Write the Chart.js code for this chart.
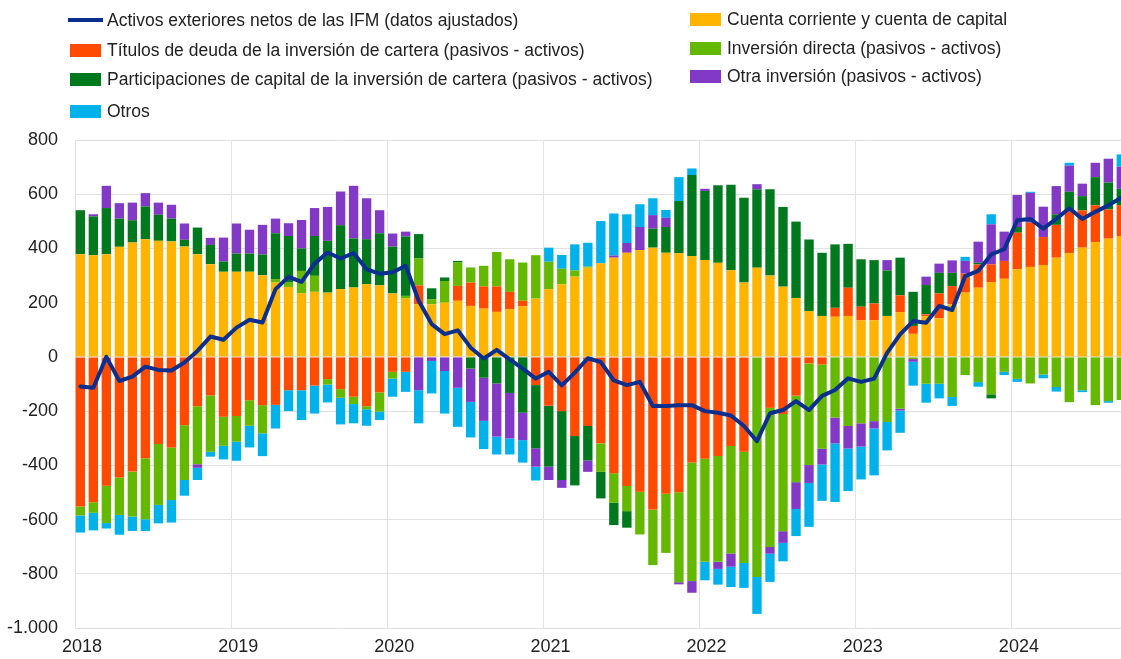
<!DOCTYPE html>
<html><head><meta charset="utf-8">
<script src="https://cdn.jsdelivr.net/npm/chart.js@4.4.0/dist/chart.umd.min.js"></script>
<style>
html,body{margin:0;padding:0;background:#fff;overflow:hidden;width:1121px;height:659px}
#wrap{position:absolute;left:0;top:0;width:1129px;height:659px}
.leg{position:absolute;font:17.5px "Liberation Sans",Arial,sans-serif;color:#222;white-space:nowrap;height:20px;line-height:20px;padding-left:37px}
.sw{position:absolute;left:0;top:4px;width:31px;height:13px}
.ln{position:absolute;left:-2px;top:8px;width:35px;height:4px;background:#003299}
</style></head>
<body>
<div id="wrap"><canvas id="c" width="1129" height="659"></canvas></div>
<div id="legend"></div>
<script>
// months Jan 2018 .. Sep 2024
const yearLabels = ['2018','2019','2020','2021','2022','2023','2024'];
const yTicks = [800,600,400,200,0,-200,-400,-600,-800,-1000];
const yTickLabels = ['800','600','400','200','0','-200','-400','-600','-800','-1.000'];

const netAssets = [
 -109,-114,0,-89,-73,-36,-48,-50,-21,22,75,63,
 108,137,127,250,295,277,344,385,363,383,323,307,
 312,336,207,121,84,98,34,-6,26,-9,-43,-80,
 -55,-105,-58,-5,-19,-87,-104,-92,-181,-181,-178,-178,
 -200,-206,-216,-255,-311,-208,-196,-163,-196,-144,-122,-79,
 -92,-80,15,83,132,126,188,173,298,317,378,397,
 504,509,473,509,548,509,535,559,587];
const currentAccount = [
 379,375,379,406,422,434,428,426,407,379,342,314,
 314,314,301,274,258,235,240,237,250,256,268,264,
 234,215,194,194,200,207,188,178,166,176,186,215,
 250,268,296,329,345,366,384,394,403,384,382,372,
 357,347,320,274,329,300,259,217,169,151,148,151,
 135,135,151,165,85,151,142,194,237,255,276,288,
 323,332,339,366,382,403,424,436,446];
const debtSecurities = [
 -552,-536,-475,-445,-423,-374,-321,-334,-252,-182,-142,-221,
 -218,-160,-178,-177,-123,-123,-106,-82,-119,-147,-182,-131,
 -55,-55,70,0,0,55,86,82,94,64,21,-104,
 -180,-200,-292,-255,-319,-429,-476,-497,-563,-505,-499,-390,
 -376,-366,-329,-350,0,-188,-211,-143,-24,-28,33,104,
 50,62,0,62,29,6,92,67,70,86,65,66,
 135,163,103,121,156,137,135,108,114];
const directInvestment = [
 -33,-39,-138,-138,-166,-225,-225,-194,-202,-214,-208,-107,
 -95,-94,-104,13,16,82,59,-20,-32,-27,-11,-71,
 -25,10,99,19,80,86,56,76,127,120,141,160,
 101,57,23,4,-105,-109,-93,-158,-205,-218,-332,-437,
 -380,-390,-396,-410,-812,-513,-432,-319,-375,-311,-224,-255,
 -245,-237,-240,-191,-8,-99,-99,-148,-67,-93,-138,-55,
 -81,-98,-65,-111,-167,-123,-178,-163,-159];
const equityInvestment = [
 162,143,170,104,82,121,96,84,25,98,71,38,
 67,67,77,169,172,83,147,191,236,181,166,192,
 173,219,90,40,13,6,-43,-77,-98,-133,-206,-233,
 -225,-254,-182,-127,-98,-82,-61,0,70,95,193,299,
 255,286,315,313,289,318,294,282,264,233,234,162,
 175,160,168,139,126,108,76,49,0,6,-15,0,
 21,0,0,39,71,53,104,99,60];
const otherInvestment = [
 0,8,82,57,65,49,45,51,60,-13,26,88,
 111,88,109,54,47,105,103,125,124,194,151,85,
 48,18,-123,-15,-52,-114,-123,-159,-196,-168,-101,-68,
 -49,-29,0,-42,0,8,36,85,50,34,-8,-43,
 8,-26,-49,0,19,-25,-43,-99,-66,-58,-95,-83,
 -86,-27,38,-7,-10,31,34,46,47,78,148,108,
 118,110,112,104,97,46,53,88,82];
const others = [
 -63,-65,-20,-73,-53,-43,-68,-83,-58,-45,-18,-50,
 -70,-80,-84,-87,-77,-110,-103,-66,-98,-71,-61,-31,
 -67,-74,-122,-120,-157,-144,-131,-104,-66,-59,-83,-51,
 52,51,96,88,156,155,106,84,62,29,88,24,
 -68,-58,-75,-92,-136,-104,-68,-100,-162,-134,-216,-157,
 -121,-173,-105,-82,-88,-70,-54,-33,15,-17,37,-12,
 -11,4,-14,-17,10,-7,0,-6,45];

const names = {
  line: 'Activos exteriores netos de las IFM (datos ajustados)',
  ca: 'Cuenta corriente y cuenta de capital',
  debt: 'Títulos de deuda de la inversión de cartera (pasivos - activos)',
  fdi: 'Inversión directa (pasivos - activos)',
  eq: 'Participaciones de capital de la inversión de cartera (pasivos - activos)',
  oi: 'Otra inversión (pasivos - activos)',
  oth: 'Otros'
};
const colors = {line:'#0a2f8f', ca:'#FFB400', debt:'#FF4B00', fdi:'#65B800', eq:'#00781E', oi:'#8139C6', oth:'#00B1EA'};

// HTML legend (2 columns, row-major)
const legendItems = [
  {k:'line', x:70, y:10, line:true}, {k:'ca', x:690, y:9},
  {k:'debt', x:70, y:40}, {k:'fdi', x:690, y:38},
  {k:'eq', x:70, y:69}, {k:'oi', x:690, y:66},
  {k:'oth', x:70, y:101}
];
const lg = document.getElementById('legend');
legendItems.forEach(it => {
  const d = document.createElement('div');
  d.className = 'leg';
  d.style.left = it.x + 'px';
  d.style.top = it.y + 'px';
  const m = document.createElement('span');
  m.className = it.line ? 'ln' : 'sw';
  m.style.background = colors[it.k];
  d.appendChild(m);
  d.appendChild(document.createTextNode(names[it.k]));
  lg.appendChild(d);
});

const X_OFF = 0.41;
const pts = arr => arr.map((v, i) => ({x: i + X_OFF, y: v}));
const bar = (k, arr) => ({type:'bar', label:names[k], data:pts(arr), backgroundColor:colors[k],
  borderWidth:0, stack:'s', barPercentage:0.72, categoryPercentage:1});
const tickFont = {family:'"Liberation Sans", Arial, sans-serif', size:18};

new Chart(document.getElementById('c'), {
  data: {
    datasets: [
      {type:'line', label:names.line, data:pts(netAssets), borderColor:colors.line, borderWidth:4,
       pointRadius:0, tension:0, stack:'line', borderJoinStyle:'round', borderCapStyle:'round'},
      bar('ca', currentAccount),
      bar('debt', debtSecurities),
      bar('fdi', directInvestment),
      bar('eq', equityInvestment),
      bar('oi', otherInvestment),
      bar('oth', others)
    ]
  },
  options: {
    responsive:false, animation:false, events:[],
    layout:{padding:{top:140, left:0, right:0, bottom:0}},
    plugins:{legend:{display:false}, tooltip:{enabled:false}},
    scales:{
      x:{type:'linear', min:0, max:81, stacked:true, offset:false,
         grid:{color:'#e2e2e2', drawTicks:false, lineWidth:1, offset:false},
         border:{display:false},
         afterBuildTicks: s => { s.ticks = yearLabels.map((_, k) => ({value: k*12})); },
         afterFit: s => { s.height = 31; },
         ticks:{font:tickFont, color:'#222', padding:8,
                labelOffset:7, maxRotation:0, autoSkip:false,
                callback: v => yearLabels[Math.round(v/12)]}},
      y:{stacked:true, min:-1000, max:800,
         grid:{color:'#e2e2e2', drawTicks:false, lineWidth:1, offset:false},
         border:{display:false},
         afterBuildTicks: s => { s.ticks = yTicks.map(v => ({value:v})); },
         afterFit: s => { s.width = 75; },
         ticks:{font:tickFont, color:'#222', padding:17,
                callback: v => yTickLabels[yTicks.indexOf(v)]}}
    }
  }
});
</script>
</body></html>
